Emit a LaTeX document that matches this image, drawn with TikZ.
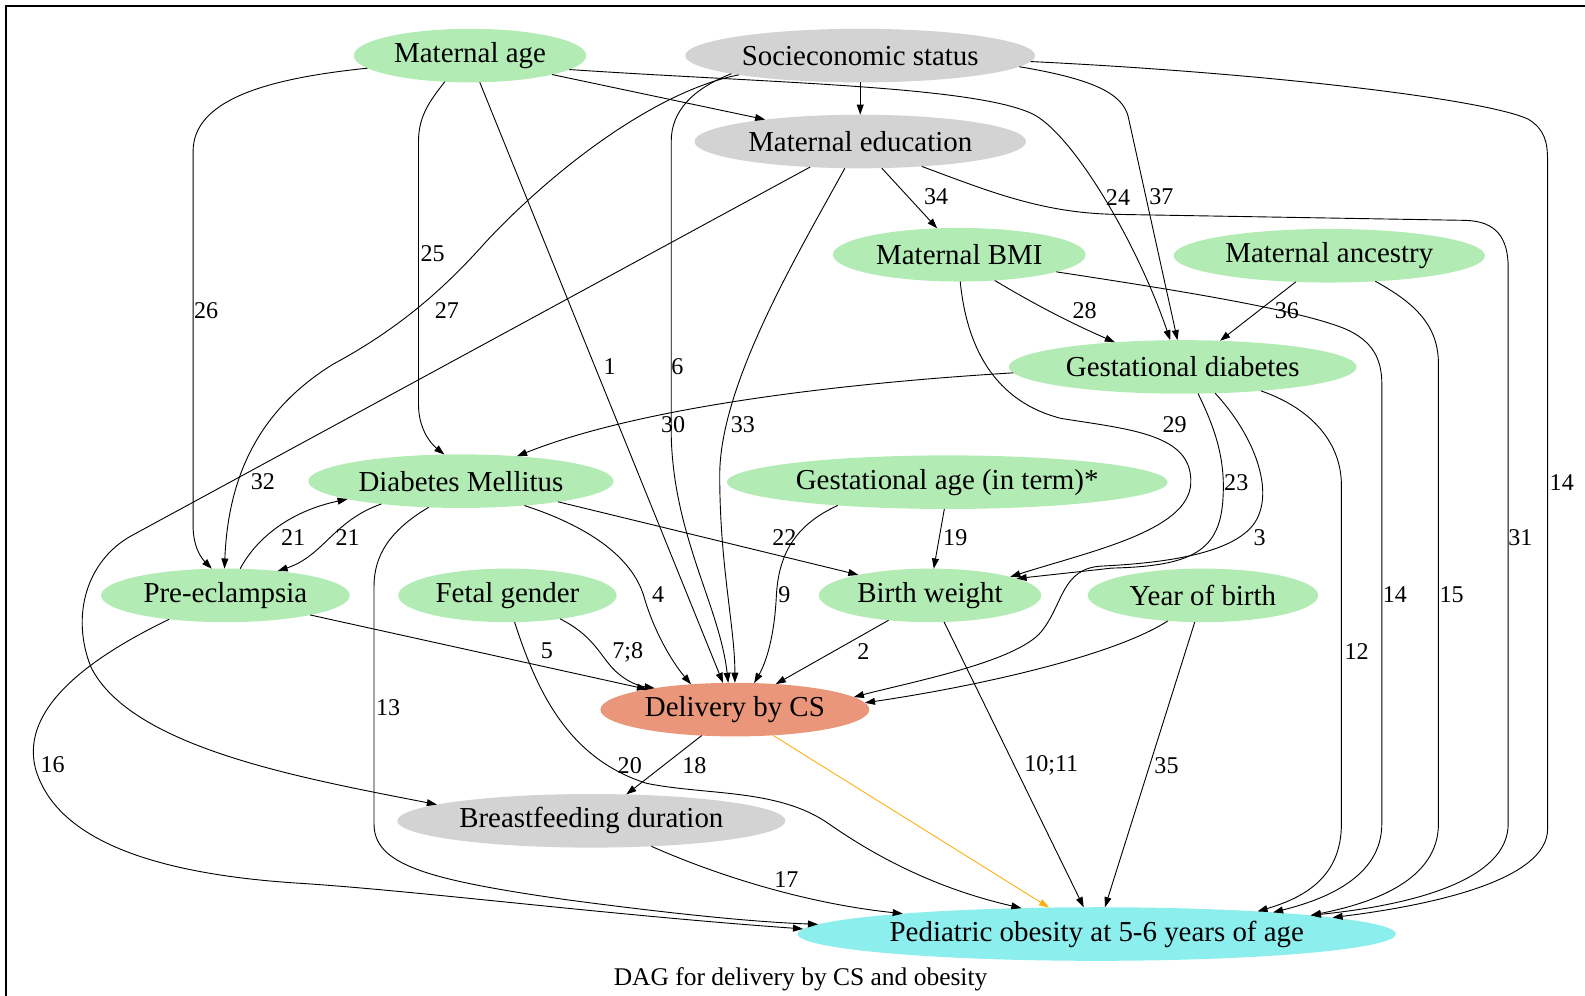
\documentclass[tikz,border=0pt]{standalone}
\usepackage{fontspec}
\setmainfont{Liberation Serif}
\usetikzlibrary{arrows.meta,shapes.geometric}
\definecolor{covgreen}{RGB}{178,236,180}
\definecolor{unobgrey}{RGB}{211,211,211}
\definecolor{exposalmon}{RGB}{233,150,122}
\definecolor{outcyan}{RGB}{141,238,238}
\definecolor{csorange}{RGB}{255,176,20}
\newcommand{\dagnodefont}{\fontsize{14.3}{17}\selectfont}
\newcommand{\daglblfont}{\fontsize{11.9}{14}\selectfont}
\newcommand{\dagcapfont}{\fontsize{12.6}{15}\selectfont}

\begin{document}
\begin{tikzpicture}[
  x=0.5pt, y=-0.5pt,
  var/.style={ellipse, inner sep=0pt, outer sep=0pt, minimum height=26.5pt, font=\dagnodefont},
  covar/.style={var, fill=covgreen},
  unobs/.style={var, fill=unobgrey},
  expo/.style={var, fill=exposalmon},
  outc/.style={var, fill=outcyan},
  arr/.style={-{Triangle[length=5pt,width=3.4pt]}, line width=0.45pt},
  lbl/.style={inner sep=0pt, font=\daglblfont}
]
\useasboundingbox (0,0) rectangle (1568,985);
\draw[line width=1pt] (6,985) -- (6,6) -- (1568,6);

\node[covar, minimum width=230pt/2] (ma) at (465,55) {Maternal age};
\node[unobs, minimum width=346pt/2] (ses) at (851,55) {Socieconomic status};
\node[unobs, minimum width=328pt/2] (edu) at (851,140) {Maternal education};
\node[covar, minimum width=250pt/2] (bmi) at (949,252) {Maternal BMI};
\node[covar, minimum width=308pt/2] (anc) at (1315,253) {Maternal ancestry};
\node[covar, minimum width=344pt/2] (gdm) at (1170,363) {Gestational diabetes};
\node[covar, minimum width=302pt/2] (dm) at (456,476) {Diabetes Mellitus};
\node[covar, minimum width=436pt/2] (ga) at (937,477) {Gestational age (in term)*};
\node[covar, minimum width=246pt/2] (pe) at (223,589) {Pre-eclampsia};
\node[covar, minimum width=216pt/2] (fg) at (502,589) {Fetal gender};
\node[covar, minimum width=220pt/2] (bw) at (920,589) {Birth weight};
\node[covar, minimum width=228pt/2] (yob) at (1190,589) {Year of birth};
\node[expo, minimum width=266pt/2] (cs) at (727,702) {Delivery by CS};
\node[unobs, minimum width=384pt/2] (bf) at (585,812) {Breastfeeding duration};
\node[outc, minimum width=592pt/2] (ob) at (1085,924) {Pediatric obesity at 5-6 years of age};
\node[font=\dagcapfont] (cap) at (792,969) {DAG for delivery by CS and obesity};

\draw[arr] (ma.187) .. controls (260,78) and (191,100) .. (191,150) -- (191,520) .. controls (191,542) and (200,553) .. (pe.117) node[lbl] at (204,307) {26};
\draw[arr] (ma.226) .. controls (425,100) and (414,115) .. (414,140) -- (414,400) .. controls (414,422) and (424,437) .. (dm.122) node[lbl] at (428,251) {25};
\draw[arr] (ma.290) -- (cs.114) node[lbl] at (603,363) {1};
\draw[arr] (ma.-13) -- (edu.167);
\draw[arr] (ma.-8) .. controls (760,82) and (960,85) .. (1020,112) .. controls (1060,130) and (1125,240) .. (gdm.115) node[lbl] at (1106,195) {24};

\draw[arr] (ses) -- (edu);
\draw[arr] (ses.189.2) .. controls (650,90) and (550,165) .. (480,240) .. controls (440,285) and (395,325) .. (330,360) .. controls (265,400) and (226,460) .. (pe.92) node[lbl] at (442,307) {27};
\draw[arr] (ses.188) .. controls (685,88) and (664,110) .. (664,140) -- (664,430) .. controls (666,530) and (712,600) .. (cs.104) node[lbl] at (670,363) {6};
\draw[arr] (ses.-4) .. controls (1080,78) and (1110,92) .. (1116,115) -- (gdm.101) node[lbl] at (1149,195) {37};
\draw[arr] (ses.-2) .. controls (1250,72) and (1470,98) .. (1512,118) .. controls (1528,128) and (1531,140) .. (1531,160) -- (1531,820) .. controls (1531,870) and (1420,895) .. (ob.4.3) node[lbl] at (1545,477) {14};

\draw[arr] (edu.-51) -- (bmi.130) node[lbl] at (926,195) {34};
\draw[arr] (edu.207) -- (130,530) .. controls (85,555) and (70,610) .. (90,660) .. controls (130,740) and (300,770) .. (bf.174) node[lbl] at (260,476) {32};
\draw[arr] (edu.240) .. controls (790,250) and (712,380) .. (712,470) .. controls (712,560) and (727,620) .. (cs.90) node[lbl] at (735,420) {33};
\draw[arr] (edu.-22) .. controls (980,190) and (1030,210) .. (1100,212) -- (1450,218) .. controls (1480,219) and (1492,235) .. (1492,265) -- (1492,815) .. controls (1492,870) and (1400,895) .. (ob.5) node[lbl] at (1504,532) {31};

\draw[arr] (bmi.-36) .. controls (1030,305) and (1065,322) .. (gdm.160) node[lbl] at (1073,307) {28};
\draw[arr] (bmi.-88) .. controls (955,330) and (975,395) .. (1050,414) .. controls (1120,425) and (1180,430) .. (1178,478) .. controls (1176,525) and (1080,545) .. (bw.13) node[lbl] at (1162,420) {29};
\draw[arr] (bmi.-10) .. controls (1150,285) and (1280,305) .. (1330,325) .. controls (1358,337) and (1367,355) .. (1367,380) -- (1367,815) .. controls (1367,868) and (1310,890) .. (ob.7) node[lbl] at (1380,588) {14};

\draw[arr] (anc.218.5) -- (gdm.35.5) node[lbl] at (1273,307) {36};
\draw[arr] (anc.-29) .. controls (1400,300) and (1423,322) .. (1423,360) -- (1423,815) .. controls (1423,870) and (1360,893) .. (ob.5.6) node[lbl] at (1436,588) {15};

\draw[arr] (gdm.182) .. controls (850,378) and (640,400) .. (dm.24) node[lbl] at (666,420) {30};
\draw[arr] (gdm.-60) .. controls (1200,420) and (1212,450) .. (1210,490) .. controls (1208,545) and (1180,560) .. (1100,562) -- (bw.11) node[lbl] at (1223,477) {23};
\draw[arr] (gdm.-39) .. controls (1240,430) and (1258,480) .. (1245,510) .. controls (1230,548) and (1150,557) .. (1090,560) .. controls (1050,562) and (1052,598) .. (1030,625) .. controls (1005,655) and (900,675) .. (cs.6) node[lbl] at (1246,532) {3};
\draw[arr] (gdm.-17) .. controls (1300,405) and (1327,440) .. (1327,480) -- (1327,815) .. controls (1327,868) and (1290,888) .. (ob.8) node[lbl] at (1342,645) {12};

\draw[arr] (dm.196) .. controls (330,515) and (320,550) .. (pe.25) node[lbl] at (344,532) {21};
\draw[arr] (pe.61) .. controls (255,530) and (290,505) .. (dm.189) node[lbl] at (290,532) {21};
\draw[arr] (dm.-12) -- (bw.164) node[lbl] at (776,532) {22};
\draw[arr] (dm.-21) .. controls (580,520) and (625,550) .. (637,590) .. controls (647,625) and (665,655) .. (cs.150) node[lbl] at (651,588) {4};
\draw[arr] (dm.219) .. controls (385,525) and (370,550) .. (370,580) -- (370,815) .. controls (370,855) and (420,870) .. (560,890) .. controls (650,902) and (740,912) .. (ob.178) node[lbl] at (384,700) {13};

\draw[arr] (pe.-13) -- (cs.167) node[lbl] at (541,644) {5};
\draw[arr] (pe.203) .. controls (90,650) and (20,700) .. (35,760) .. controls (55,830) and (150,865) .. (300,874) .. controls (420,882) and (600,905) .. (ob.179) node[lbl] at (52,756) {16};

\draw[arr] (fg.-24) .. controls (585,628) and (592,645) .. (605,660) .. controls (615,671) and (628,678) .. (cs.165) node[lbl] at (621,645) {7;8};
\draw[arr] (fg.-75) .. controls (530,680) and (560,750) .. (640,775) .. controls (700,787) and (770,780) .. (820,815) .. controls (870,850) and (930,880) .. (ob.161) node[lbl] at (623,757) {20};

\draw[arr] (ga.-96) -- (bw.82) node[lbl] at (945,532) {19};
\draw[arr] (ga.192) .. controls (785,520) and (770,550) .. (768,590) .. controls (766,630) and (758,655) .. (cs.54) node[lbl] at (776,588) {9};

\draw[arr] (bw.211.5) -- (cs.32) node[lbl] at (854,645) {2};
\draw[arr] (bw.-62.6) -- (ob.116.6) node[lbl] at (1040,757) {10;11};

\draw[arr] (yob.216) .. controls (1100,650) and (960,680) .. (cs.3);
\draw[arr] (yob.253.5) -- (ob.73.5) node[lbl] at (1154,757) {35};

\draw[arr] (cs.218) -- (bf.37.4) node[lbl] at (687,757) {18};
\draw[arr, csorange] (cs.-34.4) -- (ob.151.9);

\draw[arr] (bf.-23.6) .. controls (700,862) and (790,893) .. (ob.174.6) node[lbl] at (778,870) {17};
\end{tikzpicture}
\end{document}
